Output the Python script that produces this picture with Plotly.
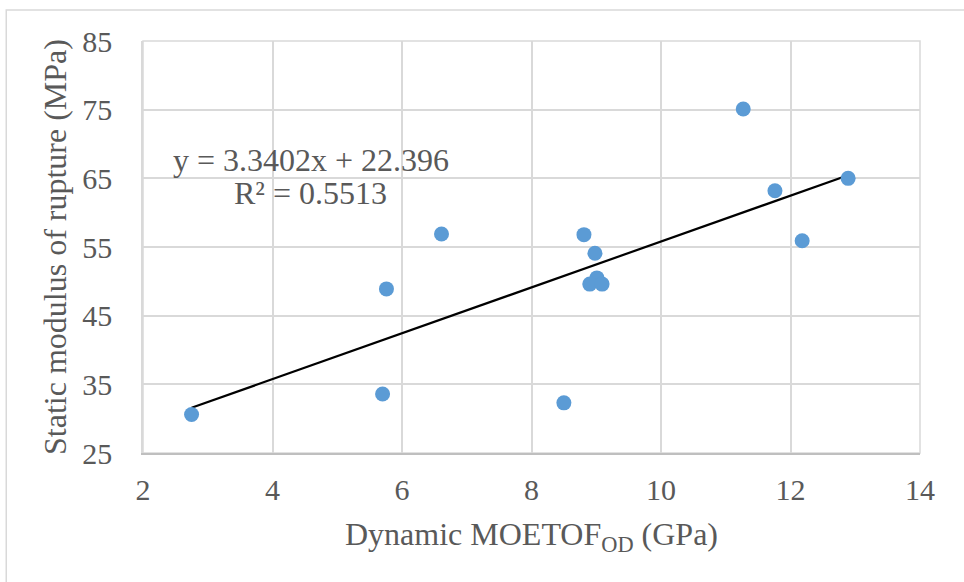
import plotly.graph_objects as go

x_moe = [2.75, 5.70, 5.76, 6.61, 8.50, 8.81, 8.98, 9.01, 8.90, 9.09, 11.27, 11.76, 12.18, 12.89]
y_mor = [30.6, 33.6, 48.9, 56.9, 32.3, 56.8, 54.1, 50.5, 49.6, 49.6, 75.1, 63.2, 55.9, 65.0]
slope = 3.3402
intercept = 22.396
r2 = 0.5513
x_ticks = [2, 4, 6, 8, 10, 12, 14]
y_ticks = [25, 35, 45, 55, 65, 75, 85]

xmin, xmax = min(x_moe), max(x_moe)
trend_x = [xmin, xmax]
trend_y = [slope * v + intercept for v in trend_x]

FONT = "Liberation Serif, Times New Roman, serif"
GREY = "#595959"
TICK = 30
TITLE = 32

fig = go.Figure()
fig.add_trace(go.Scatter(x=trend_x, y=trend_y, mode="lines",
                         line=dict(color="black", width=2.2), hoverinfo="skip"))
fig.add_trace(go.Scatter(x=x_moe, y=y_mor, mode="markers",
                         marker=dict(color="#5b9bd5", size=15, line=dict(width=0))))

fig.add_annotation(x=4.59, y=67.7, xref="x", yref="y",
                   text=f"y = {slope}x + {intercept}", showarrow=False,
                   font=dict(family=FONT, size=TITLE, color=GREY))
fig.add_annotation(x=4.59, y=62.9, xref="x", yref="y",
                   text=f"R² = {r2}", showarrow=False,
                   font=dict(family=FONT, size=TITLE, color=GREY))

# outer chart border
fig.add_shape(type="rect", xref="paper", yref="paper",
              x0=-0.176, x1=1.3, y0=-0.5, y1=1.075,
              line=dict(color="#d9d9d9", width=1.5), layer="below")

fig.update_layout(
    width=964, height=582,
    margin=dict(l=143, r=44, t=41, b=129),
    paper_bgcolor="white", plot_bgcolor="white",
    showlegend=False,
    font=dict(family=FONT, size=TICK, color=GREY),
    xaxis=dict(range=[2, 14], tickvals=x_ticks, showgrid=True, gridcolor="#d9d9d9",
               gridwidth=1.5, zeroline=False, showline=True, linecolor="#bfbfbf",
               linewidth=2, mirror=False, ticks="", ticklabelstandoff=9,
               tickfont=dict(family=FONT, size=TICK, color=GREY),
               title=dict(text="Dynamic MOETOF<sub>OD</sub> (GPa)", standoff=18,
                          font=dict(family=FONT, size=TITLE, color=GREY))),
    yaxis=dict(range=[25, 85], tickvals=y_ticks, showgrid=True, gridcolor="#d9d9d9",
               gridwidth=1.5, zeroline=False, showline=True, linecolor="#d9d9d9",
               linewidth=1.5, ticks="", ticklabelstandoff=23,
               tickfont=dict(family=FONT, size=TICK, color=GREY),
               title=dict(text="Static modulus of rupture (MPa)", standoff=6,
                          font=dict(family=FONT, size=TITLE, color=GREY))),
)
# right and top plot-area border
fig.add_shape(type="rect", xref="paper", yref="paper", x0=0, x1=1, y0=0, y1=1,
              line=dict(color="#d9d9d9", width=1.5), layer="below")

fig.write_html("out.html")
